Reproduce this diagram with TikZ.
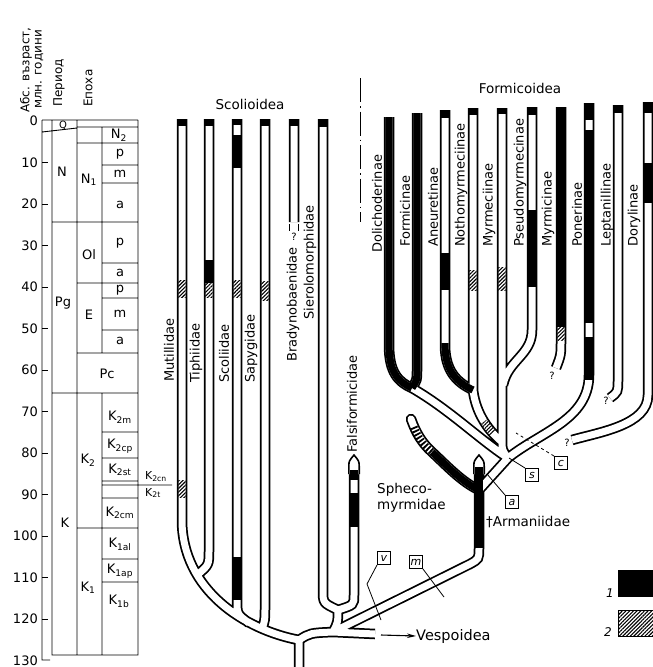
\documentclass[tikz,border=0pt]{standalone}
\usepackage{fontspec}
\setmainfont{DejaVu Sans}
\usetikzlibrary{arrows.meta, patterns.meta}

\begin{document}
\begin{tikzpicture}[
    x=1pt, y=-1pt,
    tube/.style={line width=10.5pt, postaction={draw=white, line width=7pt}},
    blk/.style={line width=7.2pt, black},
    hatch/.style={pattern={Lines[angle=45, distance=2.6pt, line width=1.1pt]}},
    grid/.style={line width=0.9pt},
    lbl/.style={rotate=90, anchor=west, inner sep=0pt, font=\fontsize{13}{15}\selectfont},
    hdr/.style={inner sep=0pt, font=\fontsize{13.5}{16}\selectfont},
    colhdr/.style={rotate=90, anchor=west, inner sep=0pt, font=\fontsize{12}{14}\selectfont},
    tlbl/.style={inner sep=0pt, font=\fontsize{13}{15}\selectfont},
    qm/.style={inner sep=0pt, font=\fontsize{10}{12}\selectfont},
    lbox/.style={draw, line width=0.9pt, minimum size=13pt, inner sep=0pt, font=\fontsize{11}{12}\itshape},
    lead/.style={line width=0.8pt}
]
\useasboundingbox (0,0) rectangle (653,667);
\clip (0,0) rectangle (653,667);

% time scale
\draw[grid]
    (42,120) -- (42,660) -- (50,660)
    (42,120) -- (138,120)
    (52,120) -- (52,655) -- (138,655) -- (138,120)
    (77,120) -- (77,655)
    (102,127) -- (102,353) (102,393) -- (102,655)
    (42,132) -- (77,128)
    (77,127) -- (138,127) (77,143) -- (138,143)
    (102,165) -- (138,165) (102,183) -- (138,183)
    (52,222) -- (138,222)
    (102,263) -- (138,263)
    (77,283) -- (138,283)
    (102,298) -- (138,298) (102,330) -- (138,330)
    (77,353) -- (138,353)
    (52,393) -- (138,393)
    (102,432) -- (138,432) (102,458) -- (138,458) (102,481) -- (138,481)
    (102,485) -- (172,485)
    (102,498) -- (138,498)
    (77,528) -- (138,528)
    (102,559) -- (138,559) (102,582) -- (138,582);
\foreach \t in {10,20,...,120}
    \draw[grid] (42,{121+4.15*\t}) -- ++(6,0);
\foreach \t in {0,10,...,130}
    \node[tlbl, anchor=east] (age\t) at (38,{121+4.15*\t}) {\t};

\node[colhdr] (hage) at (26,113) {Абс. възраст,};
\node[colhdr] (hmln) at (39,109) {млн. години};
\node[colhdr] (hper) at (59,107) {Период};
\node[colhdr] (hepo) at (88,107) {Епоха};

\node[tlbl] (pQ) at (63,125) {\fontsize{10}{12}\selectfont Q};
\node[tlbl] (pN) at (62,172) {N};
\node[tlbl] (pPg) at (63,303) {Pg};
\node[tlbl] (pK) at (65,523) {K};
\node[tlbl] (eN1) at (89,180) {N\textsubscript{1}};
\node[tlbl] (eOl) at (89,255) {Ol};
\node[tlbl] (eE) at (89,315) {E};
\node[tlbl] (ePc) at (107,374) {Pc};
\node[tlbl] (eK2) at (88,460) {K\textsubscript{2}};
\node[tlbl] (eK1) at (88,588) {K\textsubscript{1}};
\node[tlbl] (sN2) at (119,135) {N\textsubscript{2}};
\node[tlbl] (sp1) at (120,154) {p};
\node[tlbl] (sm1) at (120,174) {m};
\node[tlbl] (sa1) at (120,205) {a};
\node[tlbl] (sp2) at (120,243) {p};
\node[tlbl] (sa2) at (120,273) {a};
\node[tlbl] (sp3) at (120,290) {p};
\node[tlbl] (sm2) at (120,314) {m};
\node[tlbl] (sa3) at (120,341) {a};
\node[tlbl] (sK2m) at (120,417) {K\textsubscript{2m}};
\node[tlbl] (sK2cp) at (120,446) {K\textsubscript{2cp}};
\node[tlbl] (sK2st) at (120,470) {K\textsubscript{2st}};
\node[tlbl] (sK2cm) at (120,513) {K\textsubscript{2cm}};
\node[tlbl] (sK1al) at (120,544) {K\textsubscript{1al}};
\node[tlbl] (sK1ap) at (120,571) {K\textsubscript{1ap}};
\node[tlbl] (sK1b) at (119,601) {K\textsubscript{1b}};
\node[tlbl, font=\fontsize{11}{12}\selectfont] (sK2cn) at (156,477) {K\textsubscript{2cn}};
\node[tlbl, font=\fontsize{11}{12}\selectfont] (sK2t) at (153,493) {K\textsubscript{2t}};

% tree
\coordinate (root) at (299,640);
\coordinate (rb) at (333,632);
\coordinate (sf) at (338,610);
\coordinate (crown) at (508,458);
\coordinate (df) at (412,388);
\coordinate (an) at (473,390);
\coordinate (armj) at (479,490);

\draw[tube, line cap=round] (411,419) .. controls (416,433) and (422,443) .. (432,452)
    .. controls (448,467) and (462,482) .. (armj);

\draw[tube]
    (182,119) -- (182,520) .. controls (182,590) and (245,630) .. (root)
    (209,119) -- (209,550) .. controls (209,565) .. (197,575)
    (237,119) -- (237,600) .. controls (237,614) .. (249,623)
    (265,119) -- (265,608) .. controls (265,620) .. (262,629)
    (294,119) -- (294,222)
    (323,119) -- (323,590) .. controls (323,603) .. (sf)
    (354,468) -- (354,595) .. controls (354,605) .. (sf)
    (sf) .. controls (338,622) .. (rb)
    (299,670) -- (root) .. controls (310,633) .. (rb) -- (375,634)
    (rb) -- (470,564) .. controls (479,559) .. (479,548) -- (479,470)
    (389,117) -- (389,345) .. controls (389,372) and (398,382) .. (df)
    (417,113) -- (417,370) .. controls (417,380) .. (df)
    (df) .. controls (450,410) and (480,440) .. (crown)
    (445,110) -- (445,345) .. controls (445,372) and (458,383) .. (an)
    (473,108) -- (an) .. controls (476,415) and (490,432) .. (502,442)
    (502,108) -- (502,440) .. controls (502,450) .. (crown)
    (532,107) -- (532,330) .. controls (532,355) and (508,360) .. (503,385)
    (561,107) -- (561,340) .. controls (561,355) .. (556,368)
    (589,103) -- (589,375) .. controls (589,420) and (540,432) .. (crown)
    (618,105) -- (618,380) .. controls (618,392) .. (610,398)
    (648,102) -- (648,395) .. controls (648,425) and (600,432) .. (572,440)
    (armj) -- (crown);

\draw[line width=1.6pt, fill=white] (348.8,474) -- (348.8,466) .. controls (349,461) .. (354,455)
    .. controls (359,461) .. (359.2,466) -- (359.2,474);
\draw[line width=1.6pt, fill=white] (473.8,474) -- (473.8,466) .. controls (474,461) .. (479,455)
    .. controls (484,461) .. (484.2,466) -- (484.2,474);

\draw[blk] (389,117) -- (389,345) .. controls (389,372) and (398,382) .. (df)
    (417,113) -- (417,370) .. controls (417,380) .. (df);
\draw[blk] (445,343) -- (445,345) .. controls (445,372) and (458,383) .. (an);
\draw[blk, dash pattern=on 1.8pt off 1.8pt] (414,427) .. controls (418,437) and (423,444) .. (432,452);
\draw[blk] (432,452) .. controls (448,467) and (462,482) .. (armj);
\foreach \x/\a/\b in {182/119/126, 209/119/126, 237/119/125, 265/119/126, 294/119/126, 323/119/127,
    209/260/283, 237/135/168, 237/557/600, 354/470/480, 354/493/527, 479/467/548,
    445/110/118, 445/253/290, 473/108/115, 502/108/114, 532/107/115, 532/210/287,
    561/107/327, 589/103/120, 589/130/323, 589/337/380, 618/105/113, 648/102/113, 648/163/203}
    \draw[blk] (\x,\a) -- (\x,\b);
\foreach \x/\a/\b in {182/280/297, 182/480/497, 209/283/297, 237/280/297, 265/281/300,
    473/270/290, 502/267/290, 561/327/340}
    \fill[hatch] (\x-3.6,\a) rectangle (\x+3.6,\b);
\fill[hatch] (481.2,423.8) -- (487,419.4) -- (495.7,431.1) -- (489.9,435.5) -- cycle;

\draw[line width=1.2pt] (289.5,224) -- (289.5,231) (298.5,224) -- (298.5,231);
\node[qm] (qBrad) at (294,237) {?};
\node[qm] (qMyrm) at (552,376) {?};
\node[qm] (qLept) at (606,401) {?};
\node[qm] (qDory) at (567,443) {?};

\coordinate (sepTop) at (360,78);
\coordinate (sepBot) at (360,222);
\draw[line width=1pt, dash pattern=on 24pt off 4pt on 1.5pt off 4pt] (sepTop) -- (sepBot);

% labels
\node[hdr] (scol) at (250,104) {Scolioidea};
\node[hdr] (form) at (520,88) {Formicoidea};
\node[lbl] (lMut) at (169,382) {Mutillidae};
\node[lbl] (lTip) at (196,383) {Tiphiidae};
\node[lbl] (lSco) at (224,383) {Scoliidae};
\node[lbl] (lSap) at (251,383) {Sapygidae};
\node[lbl] (lBra) at (293,362) {Bradynobaenidae};
\node[lbl] (lSie) at (310,320) {Sierolomorphidae};
\node[lbl] (lFal) at (352,453) {Falsiformicidae};
\node[lbl] (lDol) at (377,253) {Dolichoderinae};
\node[lbl] (lFor) at (405,247) {Formicinae};
\node[lbl] (lAne) at (433,247) {Aneuretinae};
\node[lbl] (lNot) at (461,247) {Nothomyrmeciinae};
\node[lbl] (lMye) at (489,247) {Myrmeciinae};
\node[lbl] (lPse) at (520,247) {Pseudomyrmecinae};
\node[lbl] (lMyi) at (548,247) {Myrmicinae};
\node[lbl] (lPon) at (577,247) {Ponerinae};
\node[lbl] (lLep) at (607,247) {Leptanillinae};
\node[lbl] (lDor) at (634,247) {Dorylinae};
\node[hdr, anchor=north west, align=left] (lSph) at (377,483) {Spheco-\\myrmidae};
\node[hdr, anchor=west] (lArm) at (486,522) {†Armaniidae};
\node[hdr, anchor=west, font=\fontsize{14.5}{16}\selectfont] (lVes) at (416,636) {Vespoidea};
\coordinate (vesA) at (381,635);
\draw[-{Stealth[length=9pt, width=4.5pt]}, line width=1.1pt] (vesA) -- (lVes.west);

% characters
\node[lbox] (bxv) at (384,558) {v};
\node[lbox] (bxm) at (416,562) {m};
\node[lbox] (bxa) at (512,502) {a};
\node[lbox] (bxs) at (532,475) {s};
\node[lbox] (bxc) at (561,463) {c};
\coordinate (v1) at (367,584);
\coordinate (v2) at (381,620);
\coordinate (mEnd) at (444,597);
\coordinate (aEnd) at (487,474);
\coordinate (sEnd) at (509,458);
\coordinate (cEnd) at (516,433);
\draw[lead] (bxv.south west) -- (v1) -- (v2);
\draw[lead] (bxm.south east) -- (mEnd);
\draw[lead] (bxa.north west) -- (aEnd);
\draw[lead] (bxs.north west) -- (sEnd);
\draw[lead, dashed] (bxc.north west) -- (cEnd);

% legend
\fill (618,570) rectangle (660,597);
\draw[hatch, line width=1pt] (618,610) rectangle (660,636);
\node[tlbl, font=\fontsize{12}{14}\itshape] (leg1) at (610,593) {1};
\node[tlbl, font=\fontsize{12}{14}\itshape] (leg2) at (608,632) {2};

\end{tikzpicture}
\end{document}
